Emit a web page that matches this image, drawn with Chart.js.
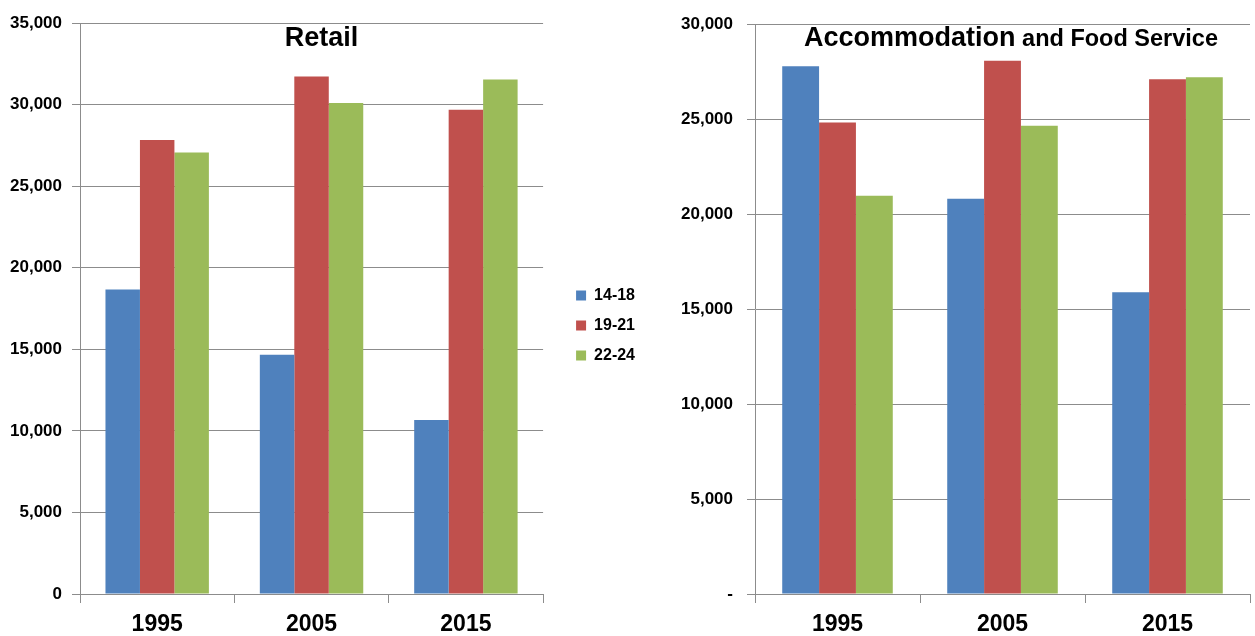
<!DOCTYPE html>
<html>
<head>
<meta charset="utf-8">
<script src="https://cdn.jsdelivr.net/npm/chart.js@4.4.1/dist/chart.umd.min.js"></script>
<style>
  html, body { margin: 0; padding: 0; background: #ffffff; }
  body { width: 1255px; height: 636px; position: relative; overflow: hidden; }
  #wrapL { position: absolute; left: 0; top: 0; width: 660px; height: 636px; }
  #wrapR { position: absolute; left: 670px; top: 0; width: 585px; height: 636px; }
</style>
</head>
<body>
<div id="wrapL"><canvas id="retail"></canvas></div>
<div id="wrapR"><canvas id="accom"></canvas></div>
<script>
// ---- data ----
const years = ['1995', '2005', '2015'];
const seriesNames = ['14-18', '19-21', '22-24'];
const retail1418 = [18670, 14670, 10660];
const retail1921 = [27830, 31720, 29690];
const retail2224 = [27060, 30100, 31540];
const accom1418 = [27790, 20810, 15890];
const accom1921 = [24830, 28070, 27100];
const accom2224 = [20970, 24650, 27210];
const retailTicks = [0, 5000, 10000, 15000, 20000, 25000, 30000, 35000];
const accomTicks = [0, 5000, 10000, 15000, 20000, 25000, 30000];

const colors = ['#4F81BD', '#C0504D', '#9BBB59'];
const FONT = "'Liberation Sans Narrow', 'Arial Narrow', 'Liberation Sans', Arial, sans-serif";
const TFONT = "'Liberation Sans', Arial, sans-serif";
const GRID = '#8c8c8c';

function fmt(v) { return v.toLocaleString('en-US'); }

function makeDatasets(a, b, c) {
  return [a, b, c].map((d, i) => ({
    label: seriesNames[i],
    data: d,
    backgroundColor: colors[i],
    borderWidth: 0,
    categoryPercentage: 0.67,
    barPercentage: 1.0
  }));
}

function titlePlugin(parts, dx) {
  return {
    id: 'innerTitle',
    afterDraw(chart) {
      const ctx = chart.ctx;
      const area = chart.chartArea;
      ctx.save();
      ctx.fillStyle = '#000';
      ctx.textBaseline = 'alphabetic';
      let total = 0;
      parts.forEach(p => { ctx.font = p.font; p.w = ctx.measureText(p.text).width; total += p.w; });
      let x = (area.left + area.right) / 2 + dx - total / 2;
      parts.forEach(p => { ctx.font = p.font; ctx.textAlign = 'left'; ctx.fillText(p.text, x, 46); x += p.w; });
      ctx.restore();
    }
  };
}

function scalesFor(ticks, yWidth, zeroDash, labelPad) {
  return {
    x: {
      grid: { display: true, drawOnChartArea: false, drawTicks: true, tickLength: 9, offset: true, color: GRID },
      border: { display: true, color: GRID, width: 1 },
      ticks: { color: '#000', font: { family: FONT, size: 23, weight: 'bold' }, padding: 8 },
      afterFit(s) { s.height = 42; }
    },
    y: {
      min: ticks[0], max: ticks[ticks.length - 1],
      afterBuildTicks(s) { s.ticks = ticks.map(v => ({ value: v })); },
      grid: { color: GRID, lineWidth: 1, drawTicks: true, tickLength: 8 },
      border: { display: true, color: GRID, width: 1 },
      ticks: {
        color: '#000', padding: labelPad,
        font: { family: FONT, size: 17, weight: 'bold' },
        callback: v => (v === 0 && zeroDash) ? '-' : fmt(v)
      },
      afterFit(s) { s.width = yWidth; }
    }
  };
}

const legendNudge = {
  id: 'legendNudge',
  afterLayout(chart) {
    const lg = chart.legend;
    if (!lg) return;
    lg.left += 19; lg.right += 19;
    lg.top -= 4; lg.bottom -= 4;
  }
};

Chart.defaults.animation = false;

new Chart(document.getElementById('retail'), {
  type: 'bar',
  data: { labels: years, datasets: makeDatasets(retail1418, retail1921, retail2224) },
  options: {
    responsive: true, maintainAspectRatio: false, animation: false,
    layout: { padding: { top: 23, left: 0, right: 34, bottom: 0 } },
    plugins: {
      legend: {
        display: true, position: 'right', align: 'center',
        labels: { boxWidth: 10, boxHeight: 10, padding: 14, color: '#000',
                  font: { family: TFONT, size: 16, weight: 'bold' } }
      },
      tooltip: { enabled: false }
    },
    scales: scalesFor(retailTicks, 80, false, 10)
  },
  plugins: [titlePlugin([{ text: 'Retail', font: "bold 27px " + TFONT }], 10), legendNudge]
});

new Chart(document.getElementById('accom'), {
  type: 'bar',
  data: { labels: years, datasets: makeDatasets(accom1418, accom1921, accom2224) },
  options: {
    responsive: true, maintainAspectRatio: false, animation: false,
    layout: { padding: { top: 23, left: 0, right: 5, bottom: 0 } },
    plugins: { legend: { display: false }, tooltip: { enabled: false } },
    scales: scalesFor(accomTicks, 85, true, 14)
  },
  plugins: [titlePlugin([
    { text: 'Accommodation', font: "bold 27px " + TFONT },
    { text: ' and Food Service', font: "bold 23.5px " + TFONT }
  ], 8.5)]
});
</script>
</body>
</html>
